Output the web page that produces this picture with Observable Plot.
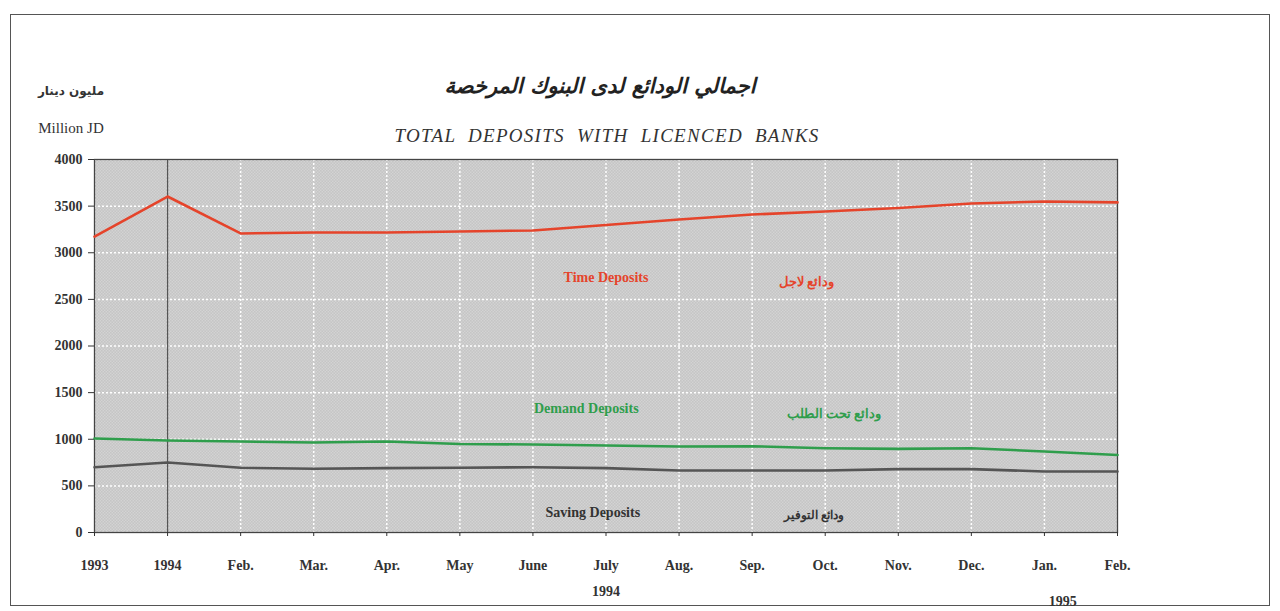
<!DOCTYPE html>
<html>
<head>
<meta charset="utf-8">
<script src="https://cdn.jsdelivr.net/npm/d3@7"></script>
<script src="https://cdn.jsdelivr.net/npm/@observablehq/plot@0.6"></script>
<style>
  body { margin: 0; background: #fff; }
  #wrap { position: relative; width: 1280px; height: 611px; overflow: hidden; background: #fff; }
  #box { position: absolute; left: 10px; top: 14px; width: 1260px; height: 592px; border: 1.5px solid #555; box-sizing: border-box; }
  #chart { position: absolute; left: 0; top: 0; }
  .t { position: absolute; white-space: nowrap; color: #222; }
</style>
</head>
<body>
<div id="wrap">
  <div id="box"></div>
  <div id="chart"></div>
  <div class="t" style="left:0;width:1200px;top:74px;text-align:center;font:italic bold 21px 'DejaVu Sans';" dir="rtl">اجمالي الودائع لدى البنوك المرخصة</div>
  <div class="t" style="left:0;width:1214px;top:125px;text-align:center;font:italic 19px 'Liberation Serif';letter-spacing:1.3px;word-spacing:6px;color:#333;">TOTAL DEPOSITS WITH LICENCED BANKS</div>
  <div class="t" style="left:36px;width:70px;top:84px;text-align:center;font:bold 12px 'DejaVu Sans';color:#333;" dir="rtl">مليون دينار</div>
  <div class="t" style="left:36px;width:70px;top:120px;text-align:center;font:15px 'Liberation Serif';color:#333;">Million JD</div>
</div>
<script>
const xLabels = ["1993","1994","Feb.","Mar.","Apr.","May","June","July","Aug.","Sep.","Oct.","Nov.","Dec.","Jan.","Feb."];
const timeDeposits   = [3174,3603,3207,3217,3217,3228,3239,3298,3357,3410,3442,3480,3528,3550,3540];
const demandDeposits = [1008,987,976,965,976,949,944,933,922,925,904,897,904,869,831];
const savingDeposits = [700,751,694,683,690,694,700,690,665,665,665,680,680,654,654];
const yTicks = [0,500,1000,1500,2000,2500,3000,3500,4000];

const series = [
  {name: "Time Deposits", values: timeDeposits, color: "#e5442b"},
  {name: "Demand Deposits", values: demandDeposits, color: "#2f9e4c"},
  {name: "Saving Deposits", values: savingDeposits, color: "#555555"}
];
const rows = series.flatMap(s => s.values.map((v, i) => ({i, v, name: s.name})));

const labels = [
  {i: 7.0,  v: 2735, text: "Time Deposits", color: "#e5442b", font: "Liberation Serif", size: 14},
  {i: 9.74, v: 2692, text: "ودائع لاجل", color: "#e5442b", font: "DejaVu Sans", size: 13},
  {i: 6.73, v: 1330, text: "Demand Deposits", color: "#2f9e4c", font: "Liberation Serif", size: 14},
  {i: 10.12, v: 1276, text: "ودائع تحت الطلب", color: "#2f9e4c", font: "DejaVu Sans", size: 13},
  {i: 6.82, v: 214, text: "Saving Deposits", color: "#333333", font: "Liberation Serif", size: 14},
  {i: 9.84, v: 182, text: "ودائع التوفير", color: "#333333", font: "DejaVu Sans", size: 12}
];
const year1994 = [{i: 7, text: "1994"}];
const year1995 = [{i: 13.25, text: "1995"}];

const chart = Plot.plot({
  width: 1280,
  height: 611,
  marginLeft: 94,
  marginRight: 163,
  marginTop: 159,
  marginBottom: 79,
  style: {fontFamily: "Liberation Serif", fontSize: "13px", fontWeight: "bold", color: "#333", background: "transparent"},
  x: {domain: [0, 14], axis: null},
  y: {domain: [0, 4000], axis: null},
  color: {domain: series.map(s => s.name), range: series.map(s => s.color)},
  marks: [
    Plot.frame({fill: "url(#dots)", stroke: null}),
    Plot.gridY(yTicks, {stroke: "#fff", strokeOpacity: 1, strokeWidth: 1.5, strokeDasharray: "2,2"}),
    Plot.gridX(d3.range(15), {stroke: "#fff", strokeOpacity: 1, strokeWidth: 1.5, strokeDasharray: "2,2"}),
    Plot.ruleX([1], {stroke: "#555", strokeWidth: 1.3}),
    Plot.frame({stroke: "#444", strokeWidth: 1.3}),
    Plot.axisY({ticks: yTicks, tickFormat: d => String(d), tickSize: 6, tickPadding: 6, fontSize: 14, fontWeight: "bold", label: null}),
    Plot.axisX({ticks: d3.range(15), tickFormat: i => xLabels[i], tickSize: 4, tickPadding: 24, fontSize: 14, fontWeight: "bold", label: null}),
    Plot.text(year1994, {x: "i", y: 0, text: "text", dy: 59, fontSize: 14, fontWeight: "bold", fill: "#333"}),
    Plot.text(year1995, {x: "i", y: 0, text: "text", dy: 69, fontSize: 14, fontWeight: "bold", fill: "#333"}),
    Plot.line(rows, {x: "i", y: "v", z: "name", stroke: "name", strokeWidth: 2.6, curve: "linear"}),
    Plot.text(labels, {x: "i", y: "v", text: "text", fill: "color", fontSize: "size", fontFamily: "font", fontWeight: "bold"})
  ]
});

// stippled background pattern for the plot area
const svg = d3.select(chart);
const defs = svg.insert("defs", ":first-child");
const pat = defs.append("pattern").attr("id", "dots").attr("patternUnits", "userSpaceOnUse").attr("width", 3).attr("height", 3);
pat.append("rect").attr("width", 3).attr("height", 3).attr("fill", "#e6e6e6");
pat.append("rect").attr("x", 0).attr("y", 0).attr("width", 1.5).attr("height", 1.5).attr("fill", "#b0b0b0");
pat.append("rect").attr("x", 1.5).attr("y", 1.5).attr("width", 1.5).attr("height", 1.5).attr("fill", "#b0b0b0");
svg.selectAll("text").filter(function() { return /[\u0600-\u06FF]/.test(this.textContent); }).attr("direction", "rtl");

document.getElementById("chart").appendChild(chart);
</script>
</body>
</html>
